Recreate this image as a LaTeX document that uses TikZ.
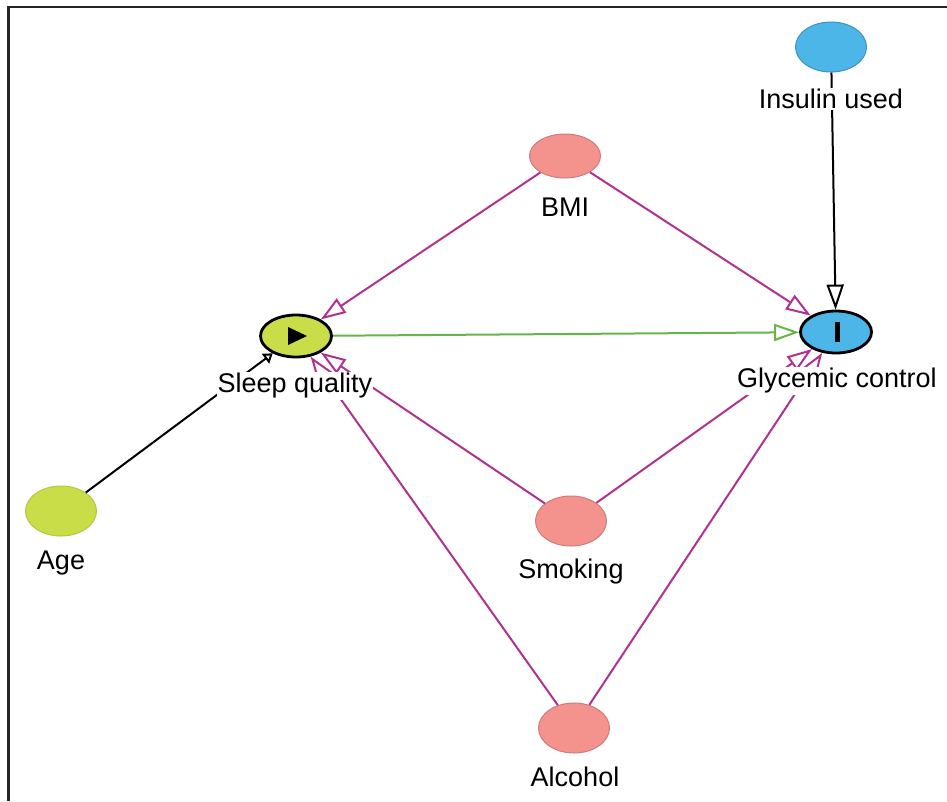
\documentclass[tikz,border=0pt]{standalone}
\usepackage{fontspec}
\setmainfont{Liberation Sans}
\usetikzlibrary{arrows.meta,shapes.geometric}
\definecolor{expocol}{RGB}{200,221,72}
\definecolor{outcol}{RGB}{76,182,232}
\definecolor{confcol}{RGB}{244,146,142}
\definecolor{biascol}{RGB}{176,50,140}
\definecolor{causcol}{RGB}{104,180,72}

\begin{document}
\begin{tikzpicture}[x=1pt,y=-1pt,
  var/.style={ellipse,draw,line width=1pt,minimum width=71pt,
              minimum height=50pt,inner sep=0pt},
  key/.style={var,draw=black,line width=2.8pt,minimum height=42pt},
  lbl/.style={fill=white,inner sep=1pt,font=\fontsize{27}{30}\selectfont},
  arr/.style={-{Triangle[open,length=25pt,width=17pt]},line width=2pt},
  bias/.style={arr,biascol}
]
\useasboundingbox (0,0) rectangle (947,801);
\draw[line width=2.5pt,black!85] (8.5,801) -- (8.5,7) -- (947,7);

% variables
\node[var,fill=outcol,draw=outcol!80!black] (insulin) at (831,47) {};
\node[var,fill=confcol,draw=confcol!85!black,minimum height=44pt] (bmi) at (565,156) {};
\node[key,fill=expocol] (sleep) at (296,336) {};
\node[key,fill=outcol] (glyc) at (836,332) {};
\node[var,fill=expocol,draw=expocol!90!black] (age) at (61,511) {};
\node[var,fill=confcol,draw=confcol!85!black] (smoking) at (571,521) {};
\node[var,fill=confcol,draw=confcol!85!black] (alcohol) at (574,728) {};

% exposure / outcome marks
\fill (sleep.center) ++(-8,-9) -- ++(19,9) -- ++(-19,9) -- cycle;
\fill (glyc.center) ++(-1.5,-10) rectangle ++(5,20);

% arrows
\draw[arr] (insulin) -- (glyc);
\draw[arr,causcol] (sleep) -- (glyc);
\draw[bias] (bmi) -- (sleep);
\draw[bias] (bmi) -- (glyc);
\draw[bias] (smoking) -- (sleep);
\draw[bias] (smoking) -- (glyc);
\draw[bias] (alcohol) -- (sleep);
\draw[bias] (alcohol) -- (glyc);
\draw[-{Triangle[open,length=9pt,width=12pt]},line width=2pt] (age) -- (sleep);

% labels
\node[lbl] (insulinlbl) at (831,99) {Insulin used};
\node[lbl] (bmilbl) at (565,207) {BMI};
\node[lbl] (sleeplbl) at (295,386) {Sleep quality};
\node[lbl] (glyclbl) at (837,381) {Glycemic control};
\node[lbl] (agelbl) at (61,563) {Age};
\node[lbl] (smokinglbl) at (571,572) {Smoking};
\node[lbl] (alcohollbl) at (575,777) {Alcohol};
\end{tikzpicture}
\end{document}
